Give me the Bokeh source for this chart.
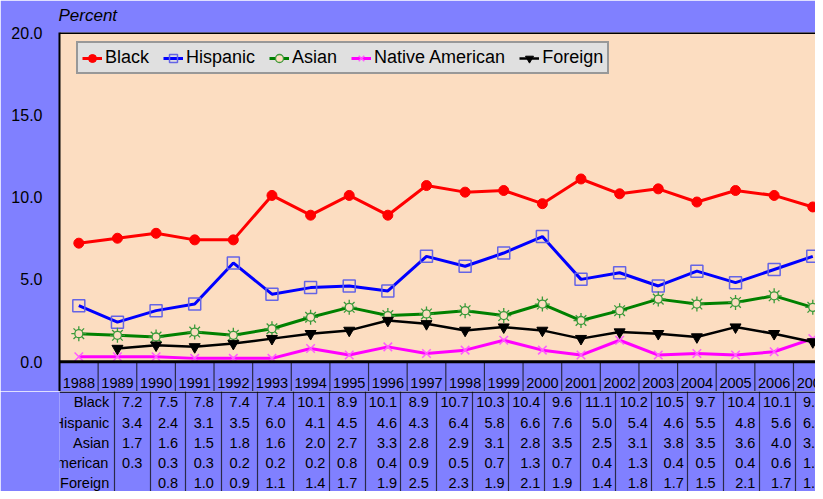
import numpy as np
from bokeh.plotting import figure
from bokeh.layouts import column
from bokeh.models import (Range1d, FixedTicker, Legend, LegendItem, Span, BoxAnnotation,
                          Grid, ColumnDataSource, PrintfTickFormatter)
from bokeh.core.properties import value
from bokeh.embed import file_html
from bokeh.resources import INLINE

# ---------------- data ----------------
years = [str(y) for y in range(1988, 2008)]
series_names = ["Black", "Hispanic", "Asian", "Native American", "Foreign"]
black = [7.2, 7.5, 7.8, 7.4, 7.4, 10.1, 8.9, 10.1, 8.9, 10.7, 10.3, 10.4, 9.6, 11.1, 10.2, 10.5, 9.7, 10.4, 10.1, 9.4]
hispanic = [3.4, 2.4, 3.1, 3.5, 6.0, 4.1, 4.5, 4.6, 4.3, 6.4, 5.8, 6.6, 7.6, 5.0, 5.4, 4.6, 5.5, 4.8, 5.6, 6.4]
asian = [1.7, 1.6, 1.5, 1.8, 1.6, 2.0, 2.7, 3.3, 2.8, 2.9, 3.1, 2.8, 3.5, 2.5, 3.1, 3.8, 3.5, 3.6, 4.0, 3.3]
native = [0.3, 0.3, 0.3, 0.2, 0.2, 0.2, 0.8, 0.4, 0.9, 0.5, 0.7, 1.3, 0.7, 0.4, 1.3, 0.4, 0.5, 0.4, 0.6, 1.4]
foreign = [None, 0.8, 1.0, 0.9, 1.1, 1.4, 1.7, 1.9, 2.5, 2.3, 1.9, 2.1, 1.9, 1.4, 1.8, 1.7, 1.5, 2.1, 1.7, 1.2]
y_ticks = [0, 5, 10, 15, 20]
y_title = "Percent"

# ---------------- styling / layout ----------------
BLUE = "#8080FF"
PEACH = "#FCDDC1"
GRIDC = "#2A2A48"
FONT = "Liberation Sans"
W = 815
FRAME_L = 59
FRAME_T = 30
PLOT_H = 331          # px of the 0..20 value area
HEADER_H = 30         # px of the year header row
TOP_H = FRAME_T + PLOT_H + HEADER_H
TAB_H = 100           # table body
CELL = 38.63          # px per category
ROW = 20.3            # px per table row
TFS = 14.5            # table font size
LEG_TOP = 44          # legend box top, px from canvas top
LEG_H = 30

n = len(years)
xs = list(range(n))
x_end = -0.5 + (W - FRAME_L) / CELL
x_top = Range1d(-0.5, x_end)
x_tab = Range1d(-0.5 - FRAME_L / CELL, x_end)
ymin, ymax = y_ticks[0], y_ticks[-1]
pxu = PLOT_H / (ymax - ymin)
y_low = ymin - HEADER_H / pxu

p = figure(width=W, height=TOP_H, x_range=x_top, y_range=Range1d(y_low, ymax),
           x_axis_type=None, output_backend="svg", toolbar_location=None,
           min_border_left=FRAME_L, min_border_right=0, min_border_top=FRAME_T,
           min_border_bottom=0, background_fill_color=BLUE, border_fill_color=BLUE,
           outline_line_color=None)
p.grid.visible = False
p.add_layout(BoxAnnotation(bottom=ymin, top=ymax, fill_color=PEACH, fill_alpha=1.0,
                           line_color=None, level="underlay"))

p.title.text = y_title
p.title.text_font = FONT
p.title.text_font_size = "17px"
p.title.text_font_style = "italic"
p.title.text_color = "black"
p.title.align = "left"
p.title.vertical_align = "top"
p.title.offset = -1
p.title.standoff = 11

ay = p.yaxis[0]
ay.ticker = FixedTicker(ticks=y_ticks)
ay.formatter = PrintfTickFormatter(format="%.1f")
ay.major_tick_in = 0
ay.major_tick_out = 0
ay.minor_tick_line_color = None
ay.axis_line_width = 2
ay.axis_line_color = "black"
ay.major_label_text_font = FONT
ay.major_label_text_font_size = "16px"
ay.major_label_text_color = "black"
ay.major_label_standoff = 17

# header row: column separators and year labels
bounds = [i - 0.5 for i in range(n + 1)]
p.segment(x0=bounds, y0=[y_low] * len(bounds), x1=bounds, y1=[ymin] * len(bounds),
          line_color=GRIDC, line_width=1.2)
p.text(x=xs, y=[ymin - 21 / pxu] * n, text=years, text_align="center", text_baseline="middle",
       text_font=value(FONT), text_font_size=f"{TFS}px", text_color="black")

p.add_layout(Span(location=ymax, dimension="width", line_color="black", line_width=3))

def arr(v):
    return np.array([np.nan if a is None else a for a in v], dtype=float)

items = []
r1 = p.line(xs, arr(black), line_color="#FF0000", line_width=3)
m1 = p.scatter(xs, arr(black), marker="circle", size=10, fill_color="#FF0000", line_color="#FF0000")
items.append(LegendItem(label=series_names[0], renderers=[r1, m1]))

r2 = p.line(xs, arr(hispanic), line_color="#0000FF", line_width=3)
m2 = p.scatter(xs, arr(hispanic), marker="square", size=12, fill_color=None, line_color="#6464E6", line_width=1.5)
items.append(LegendItem(label=series_names[1], renderers=[r2, m2]))

r3 = p.line(xs, arr(asian), line_color="#008000", line_width=3)
m3a = p.scatter(xs, arr(asian), marker="asterisk", size=15, line_color="#3A9A3A", line_width=1.3)
m3b = p.scatter(xs, arr(asian), marker="circle", size=8, fill_color=PEACH, line_color="#3A9A3A", line_width=1.3)
items.append(LegendItem(label=series_names[2], renderers=[r3, m3a, m3b]))

r4 = p.line(xs, arr(native), line_color="#FF00FF", line_width=3)
m4 = p.scatter(xs, arr(native), marker="x", size=12, line_color="#FF5CFF", line_width=1.5)
items.append(LegendItem(label=series_names[3], renderers=[r4, m4]))

r5 = p.line(xs, arr(foreign), line_color="black", line_width=2.5)
m5 = p.scatter(xs, arr(foreign), marker="inverted_triangle", size=11, fill_color="black", line_color="black")
items.append(LegendItem(label=series_names[4], renderers=[r5, m5]))

# bottom border of the value area (drawn above the markers)
p.add_layout(Span(location=ymin, dimension="width", line_color="black", line_width=3))

legend = Legend(items=items, orientation="horizontal",
                location=(17, TOP_H - LEG_TOP - LEG_H),
                label_text_font=FONT, label_text_font_size="18px", label_text_color="black",
                glyph_width=20, glyph_height=20, label_height=20, label_standoff=3,
                spacing=14, padding=4, margin=0,
                background_fill_color="#E0E0E0", background_fill_alpha=1.0,
                border_line_color="#505050", border_line_width=2)
p.add_layout(legend)

# ---------------- data table body ----------------
y_top = -0.5 - 0.6 / ROW
t = figure(width=W, height=TAB_H, x_range=x_tab,
           y_range=Range1d(y_top + TAB_H / ROW, y_top),
           x_axis_type=None, y_axis_type=None, output_backend="svg", toolbar_location=None,
           min_border_left=0, min_border_right=0, min_border_top=0, min_border_bottom=0,
           background_fill_color=BLUE, border_fill_color=BLUE, outline_line_color=None)

t.add_layout(Grid(dimension=0, ticker=FixedTicker(ticks=bounds),
                  grid_line_color=GRIDC, grid_line_width=1.2))
t.add_layout(Span(location=-0.5, dimension="width", line_color="black", line_width=1.2))

t.text(x=[-0.5] * len(series_names), y=list(range(len(series_names))), text=series_names,
       x_offset=-5, text_align="right", text_baseline="middle",
       text_font=value(FONT), text_font_size=f"{TFS}px", text_color="black")

all_series = [black, hispanic, asian, native, foreign]
def fmt(v):
    return "" if v is None else f"{v:.1f}"
def width_px(s):
    return sum((0.278 if c == "." else 0.556) * TFS for c in s)

col_half = [max(width_px(fmt(s[j])) for s in all_series) / 2 for j in range(n)]
vx, vy, vt, vo = [], [], [], []
for i, s in enumerate(all_series):
    for j in range(n):
        vx.append(j)
        vy.append(i)
        vt.append(fmt(s[j]))
        vo.append(col_half[j])
src = ColumnDataSource(dict(x=vx, y=vy, text=vt, off=vo))
t.text(x="x", y="y", text="text", x_offset="off", source=src, text_align="right",
       text_baseline="middle", text_font=value(FONT), text_font_size=f"{TFS}px",
       text_color="black")

layout = column(p, t, spacing=0)
open("out.html", "w").write(file_html(layout, INLINE))
